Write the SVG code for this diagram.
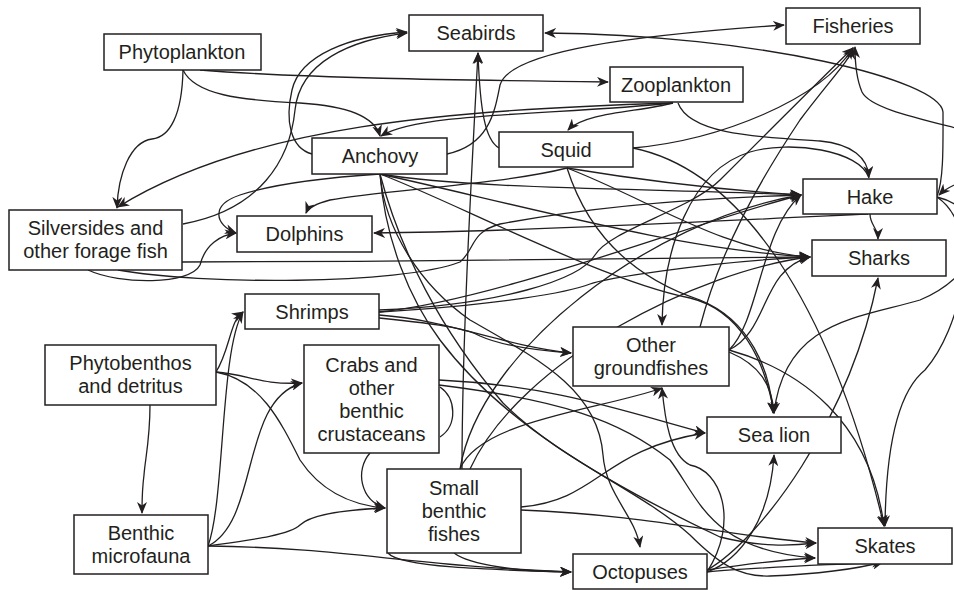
<svg xmlns="http://www.w3.org/2000/svg" width="954" height="590" viewBox="0 0 954 590">
<style>
.n rect{fill:#fff;stroke:#231f20;stroke-width:1.5}
.n text{font-family:"Liberation Sans",Arial,sans-serif;font-size:20px;fill:#231f20;text-anchor:middle}
.c path{fill:none;stroke:#231f20;stroke-width:1.3;marker-end:url(#a)}
.c path.nm{marker-end:none}
</style>
<defs>
<marker id="a" viewBox="0 0 12 10" refX="11" refY="5" markerWidth="12" markerHeight="10" markerUnits="userSpaceOnUse" orient="auto">
<path d="M0,0 L12,5 L0,10 L3.5,5 z" fill="#231f20"/>
</marker>
</defs>
<rect width="954" height="590" fill="#fff"/>
<g class="c" id="connectors">
<path d="M200,70 C300,78 450,80 608,82"/>
<path d="M183,70 C195,95 240,100 300,103 C350,106 375,118 380,136"/>
<path d="M183,70 C182,115 170,137 152,139 C130,142 118,175 117,208"/>
<path d="M673,103 C450,110 250,125 118,207"/>
<path d="M673,103 C560,115 420,112 381,136"/>
<path d="M673,103 C640,112 585,112 568,130"/>
<path d="M678,103 C690,135 760,137 820,141 C852,144 868,158 869,177"/>
<path d="M869,178 C860,150 790,140 750,152 C690,170 663,250 662,325"/>
<path d="M312,154 C290,148 285,120 292,90 C300,55 350,36 407,32"/>
<path d="M183,224 C260,210 290,160 295,110 C300,62 350,40 407,33"/>
<path d="M447,154 C490,145 495,110 500,85 C510,50 640,35 784,25"/>
<path d="M937,196 C944,180 943,140 943,112 C940,80 760,35 545,33"/>
<path d="M1000,140 C940,122 872,112 862,92 C856,78 855,62 855,47"/>
<path d="M1000,172 C975,176 950,184 939,195"/>
<path d="M937,197 C990,210 990,270 920,300 C860,318 785,320 774,413"/>
<path d="M937,197 C985,230 960,330 925,370 C900,390 886,440 885,526"/>
<path d="M870,214 C870,225 878,228 878,239"/>
<path d="M868,214 C700,222 500,232 374,233"/>
<path d="M380,174 C480,190 650,188 801,195"/>
<path d="M380,174 C520,205 680,250 810,257"/>
<path d="M567,168 C640,180 720,190 801,195"/>
<path d="M567,168 C650,200 720,250 810,257"/>
<path d="M118,270 C200,285 400,285 460,262 C475,250 470,232 500,224 C600,205 700,198 801,195"/>
<path d="M182,262 C400,262 650,258 810,257"/>
<path d="M379,312 C500,300 700,220 801,195"/>
<path d="M379,312 C500,305 570,292 590,284 C600,280 700,262 810,257"/>
<path d="M460,469 C480,350 650,220 801,195"/>
<path d="M470,469 C520,360 700,270 810,257"/>
<path d="M729,350 C760,320 760,230 801,195"/>
<path d="M729,350 C770,330 760,270 810,257"/>
<path d="M379,315 C450,320 500,345 571,353"/>
<path d="M379,318 C450,325 470,330 480,336 C500,345 530,350 571,353"/>
<path d="M379,310 C500,305 580,280 595,255 C610,230 690,210 720,180 C780,120 830,70 853,48"/>
<path d="M700,327 C720,250 760,180 800,120 C830,80 850,60 853,48"/>
<path d="M633,148 C720,140 820,100 853,48"/>
<path d="M567,168 C500,185 380,190 330,200 C315,204 308,208 306,213"/>
<path d="M499,148 C485,140 480,110 478,53"/>
<path d="M462,469 C462,350 470,200 478,53"/>
<path d="M567,168 C590,240 640,280 700,300 C750,320 770,370 773,413"/>
<path d="M380,174 C450,200 600,280 690,298 C740,310 765,360 774,413"/>
<path d="M633,148 C740,170 830,300 884,526"/>
<path d="M380,174 C385,230 420,285 470,320 C540,360 598,390 603,455 C606,495 635,515 640,547"/>
<path d="M729,352 C760,365 772,385 774,413"/>
<path d="M729,350 C800,370 870,420 884,526"/>
<path d="M380,174 C385,240 410,300 440,340 C500,420 600,480 720,537 C760,547 790,546 816,543"/>
<path d="M380,174 C400,250 440,330 503,403 C560,460 640,490 690,535 C720,565 740,577 770,576 C820,574 860,568 883,562"/>
<path d="M521,507 C600,500 600,450 705,433"/>
<path d="M521,510 C650,515 720,535 816,543"/>
<path d="M439,380 C550,385 620,410 705,433"/>
<path d="M439,385 C560,400 620,420 670,460 C700,500 710,550 815,558"/>
<path class="nm" d="M440,437 C458,425 456,398 440,387"/>
<path d="M707,570 C760,540 850,420 878,278"/>
<path d="M707,572 C740,560 770,520 774,455"/>
<path d="M707,572 C740,520 720,470 690,465 C670,455 665,420 662,388"/>
<path d="M707,572 C760,567 830,565 883,562"/>
<path d="M707,570 C740,565 780,560 815,558"/>
<path d="M208,546 C225,500 220,350 243,312"/>
<path d="M216,372 C230,350 230,320 243,312"/>
<path d="M216,372 C250,375 260,385 302,383"/>
<path d="M208,546 C260,520 240,400 302,383"/>
<path d="M216,372 C260,380 280,420 300,460 C320,490 350,505 385,508"/>
<path d="M208,546 C250,540 290,535 300,525 C310,515 340,510 385,508"/>
<path d="M370,453 C355,470 360,500 385,508"/>
<path d="M208,546 C350,548 400,565 571,572"/>
<path d="M454,553 C470,565 520,572 571,572"/>
<path d="M388,553 C400,568 500,570 571,572"/>
<path d="M150,405 C150,440 145,460 144,475 C142,490 142,500 142,513"/>
<path d="M460,469 C480,420 600,410 662,388"/>
<path d="M88,270 C120,285 190,285 200,265 C205,245 220,235 236,233"/>
<path d="M380,174 C320,178 270,185 240,195 C210,205 215,225 236,233"/>
</g>
<g class="n" id="phytoplankton"><rect x="104" y="34" width="157" height="36"/><text x="182" y="59">Phytoplankton</text></g>
<g class="n" id="seabirds"><rect x="409" y="15" width="134" height="36"/><text x="476" y="40">Seabirds</text></g>
<g class="n" id="fisheries"><rect x="786" y="8" width="134" height="36"/><text x="853" y="33">Fisheries</text></g>
<g class="n" id="zooplankton"><rect x="610" y="67" width="133" height="35"/><text x="676" y="92">Zooplankton</text></g>
<g class="n" id="anchovy"><rect x="312" y="138" width="135" height="36"/><text x="380" y="163">Anchovy</text></g>
<g class="n" id="squid"><rect x="499" y="132" width="134" height="35"/><text x="566" y="157">Squid</text></g>
<g class="n" id="hake"><rect x="803" y="179" width="134" height="35"/><text x="870" y="204">Hake</text></g>
<g class="n" id="silversides"><rect x="9" y="210" width="173" height="60"/><text x="95.5" y="235">Silversides and</text><text x="95.5" y="258">other forage fish</text></g>
<g class="n" id="dolphins"><rect x="237" y="216" width="135" height="36"/><text x="304.5" y="241">Dolphins</text></g>
<g class="n" id="sharks"><rect x="812" y="240" width="134" height="36"/><text x="879" y="265">Sharks</text></g>
<g class="n" id="shrimps"><rect x="245" y="294" width="134" height="35"/><text x="312" y="319">Shrimps</text></g>
<g class="n" id="phytobenthos"><rect x="45" y="345" width="171" height="60"/><text x="130.5" y="370">Phytobenthos</text><text x="130.5" y="393">and detritus</text></g>
<g class="n" id="crabs"><rect x="304" y="345" width="135" height="108"/><text x="371.5" y="371.5">Crabs and</text><text x="371.5" y="394.5">other</text><text x="371.5" y="417.5">benthic</text><text x="371.5" y="440.5">crustaceans</text></g>
<g class="n" id="other-groundfishes"><rect x="573" y="327" width="156" height="59"/><text x="651" y="352">Other</text><text x="651" y="375">groundfishes</text></g>
<g class="n" id="sea-lion"><rect x="707" y="417" width="134" height="36"/><text x="774" y="442">Sea lion</text></g>
<g class="n" id="benthic-microfauna"><rect x="74" y="515" width="134" height="59"/><text x="141" y="540">Benthic</text><text x="141" y="563">microfauna</text></g>
<g class="n" id="small-benthic-fishes"><rect x="387" y="469" width="134" height="84"/><text x="454" y="495">Small</text><text x="454" y="518">benthic</text><text x="454" y="541">fishes</text></g>
<g class="n" id="skates"><rect x="818" y="528" width="134" height="36"/><text x="885" y="553">Skates</text></g>
<g class="n" id="octopuses"><rect x="573" y="554" width="134" height="35"/><text x="640" y="579">Octopuses</text></g>
</svg>
